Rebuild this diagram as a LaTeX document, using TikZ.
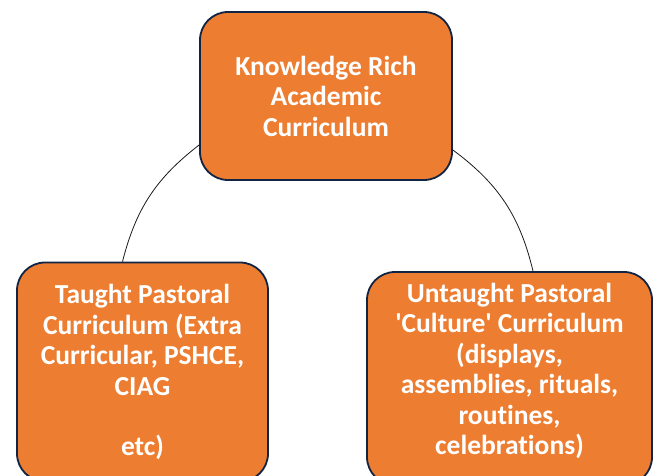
\documentclass[tikz,border=0pt]{standalone}
\usepackage{fontspec}
\setmainfont[Ligatures=NoCommon]{Carlito}
\definecolor{boxfill}{RGB}{237,125,49}
\definecolor{boxline}{RGB}{18,36,68}
\tikzset{currbox/.style={draw=boxline, line width=1.8pt, fill=boxfill, rounded corners=28pt,
    text=white, font=\bfseries\fontsize{27.5}{30.5}\selectfont, align=center, inner sep=0pt},
  link/.style={line width=0.8pt, black!90}}

\begin{document}
\begin{tikzpicture}[x=1pt, y=1pt]
    \clip (0,0) rectangle (655,475);
    % top box
    \node[currbox, minimum width=252pt, minimum height=168pt] (academic) at (326,379)
        {Knowledge Rich\\Academic\\Curriculum};
    % bottom left box
    \node[currbox, minimum width=251pt, minimum height=219pt] (taught) at (142.5,103)
        {Taught Pastoral\\Curriculum (Extra\\Curricular, PSHCE,\\CIAG\\[30pt]etc)};
    % bottom right box
    \node[currbox, minimum width=285pt, minimum height=213pt] (untaught) at (509.5,96.5)
        {Untaught Pastoral\\\textquotesingle Culture\textquotesingle{} Curriculum\\(displays,\\assemblies, rituals,\\routines,\\celebrations)\\[-11pt]\mbox{}};
    % arcs of the circle
    \draw[link] ([yshift=-49pt]academic.west) to[bend right=19] ([xshift=-20pt]taught.north);
    \draw[link] ([yshift=-54pt]academic.east) to[bend left=20] ([xshift=23.5pt]untaught.north);
\end{tikzpicture}
\end{document}
